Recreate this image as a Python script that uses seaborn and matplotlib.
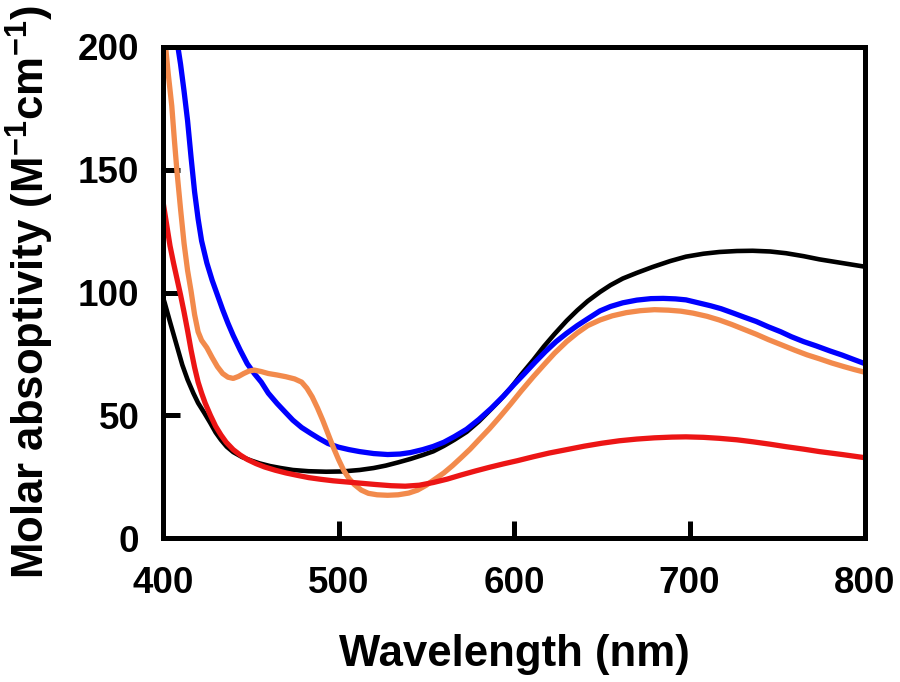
import matplotlib
matplotlib.use('Agg')
import matplotlib.pyplot as plt
import seaborn as sns
import numpy as np
import pandas as pd

# values (wavelength nm, molar absorptivity)
black_wl = [400, 401, 404, 408, 411, 414, 417.3, 420, 423.5, 427, 430, 433, 436.3, 440, 445,
            450, 455, 461, 467, 474, 483, 493, 502, 512, 520, 527, 534, 541, 548, 554,
            560, 566, 573, 580, 586, 592, 598, 604, 611, 617, 623, 630, 636, 642, 649,
            655, 662, 670, 679, 689, 698, 708, 717, 727, 736, 746, 755, 765, 774, 787, 800]
black_eps = [98, 95.7, 88, 78, 70.5, 64.5, 59, 55, 51, 46.8, 43, 40, 37.2, 35, 33,
             31.6, 30.4, 29.3, 28.5, 27.7, 27.2, 27, 27.1, 27.7, 28.5, 29.5, 30.8, 32.2, 33.8, 35.3,
             37.5, 40, 43.2, 47.5, 51.8, 56.2, 61, 66.5, 72.5, 78, 83, 88.5, 92.7, 96.5, 100.2,
             103, 105.7, 108, 110.4, 112.8, 114.6, 115.8, 116.5, 116.9, 117, 116.7, 116, 114.8, 113.5, 112, 110.5]

blue_wl = [408.5, 410, 412, 414, 416, 418, 420, 422, 425, 428, 431, 434, 437, 440, 444,
           448, 452, 456, 460, 465, 470, 474, 479, 484, 489, 494, 500, 506, 512, 520,
           528, 535, 541, 548, 554, 560, 566, 573, 580, 587, 594, 600, 606, 612, 618,
           624, 630, 636, 642, 649, 655, 662, 670, 678, 685, 692, 698, 705, 712, 718,
           725, 731, 738, 745, 752, 758, 765, 772, 780, 787, 794, 800]
blue_eps = [200, 193, 182, 170, 155, 141, 130, 121, 112, 105, 99, 93, 87.5, 82.5, 76.5,
            71, 67, 63.5, 59, 54.8, 51, 48, 45, 42.7, 40.5, 38.5, 37, 36, 35.2, 34.4,
            34, 34.2, 34.8, 36, 37.3, 39, 41.3, 44.3, 48.3, 52.8, 57.8, 62.5, 67, 71.6, 76,
            80, 83.4, 86.5, 89.3, 92.5, 94.3, 95.8, 96.9, 97.5, 97.6, 97.4, 97, 95.8, 94.6, 93.4,
            91.6, 90, 88.2, 86, 84, 82, 80, 78.3, 76.2, 74.5, 72.6, 71]

orange_wl = [401.5, 403, 405, 406.5, 408, 410, 412, 414, 416, 418, 420, 422, 425, 428, 431,
             434, 437, 440, 443, 446, 449, 452, 456, 460, 465, 470, 475, 479, 482, 485,
             488, 491, 494, 497, 500, 503, 506, 509, 513, 517, 522, 528, 534, 540, 545,
             550, 555, 560, 565, 570, 575, 580, 586, 592, 598, 604, 611, 617, 623, 630,
             636, 642, 649, 656, 664, 672, 680, 688, 695, 702, 710, 717, 724, 731, 738,
             745, 752, 760, 767, 774, 781, 788, 794, 800]
orange_eps = [200, 189, 176, 162, 149, 134, 120, 109, 100.5, 91, 84, 80.5, 77.5, 73.5, 69.8,
              67, 65.5, 65, 65.8, 67, 68, 68.4, 67.8, 67, 66.4, 65.7, 64.8, 63.5, 61, 57.5,
              53, 48, 42.5, 37, 32, 27.5, 24.2, 21.8, 19.5, 18.2, 17.6, 17.4, 17.6, 18.3, 19.5,
              21.5, 24, 26.5, 29.5, 32.8, 36.2, 40, 44.5, 49.4, 54.5, 59.8, 65.7, 70.5, 75.2, 80,
              83.5, 86.5, 88.8, 90.5, 91.8, 92.6, 93, 92.8, 92.4, 91.6, 90.3, 88.8, 87, 85, 83,
              80.8, 78.8, 76.5, 74.6, 73, 71.3, 69.8, 68.6, 67.5]

red_wl = [400, 402, 404, 406, 408, 410, 412, 414, 416, 418, 420, 422, 424, 427, 430,
          433, 436, 440, 444, 448, 453, 458, 464, 470, 476, 483, 490, 497, 505, 513,
          521, 530, 538, 546, 554, 562, 570, 578, 586, 594, 602, 611, 620, 630, 640,
          650, 660, 670, 680, 690, 698, 708, 717, 727, 736, 746, 755, 765, 774, 787, 800]
red_eps = [137, 128, 119, 112, 105.5, 99, 92, 84.5, 76.5, 69.5, 63.5, 59, 55, 50, 45.5,
           42, 39, 36, 33.8, 32, 30.3, 28.9, 27.6, 26.5, 25.6, 24.6, 23.9, 23.3, 22.8, 22.3,
           21.8, 21.3, 21.1, 21.5, 22.6, 24, 25.7, 27.3, 28.8, 30.2, 31.5, 33.1, 34.6, 36, 37.4,
           38.6, 39.6, 40.3, 40.8, 41.1, 41.2, 41, 40.6, 40, 39.2, 38.2, 37.2, 36.2, 35.2, 34, 32.7]

x_ticks = [400, 500, 600, 700, 800]
y_ticks = [0, 50, 100, 150, 200]

sns.set_style('ticks')
plt.rcParams['font.family'] = ['Liberation Sans', 'DejaVu Sans']
plt.rcParams['font.weight'] = 'bold'
plt.rcParams['mathtext.fontset'] = 'custom'
plt.rcParams['mathtext.rm'] = 'Liberation Sans:bold'
plt.rcParams['mathtext.bf'] = 'Liberation Sans:bold'
for key in ['text.color', 'axes.labelcolor', 'xtick.color', 'ytick.color', 'axes.edgecolor']:
    plt.rcParams[key] = 'black'

fig, ax = plt.subplots(figsize=(9, 6.82), dpi=100)
fig.subplots_adjust(left=163/900, right=865/900, top=1-47/682, bottom=1-538/682)

series = [
    (black_wl, black_eps, '#000000', 3.3),
    (blue_wl, blue_eps, '#0000ff', 3.8),
    (orange_wl, orange_eps, '#f28a4c', 3.8),
    (red_wl, red_eps, '#ec1515', 3.8),
]
for wl, eps, color, lw in series:
    df = pd.DataFrame({'wl': wl, 'eps': eps})
    sns.lineplot(data=df, x='wl', y='eps', color=color, linewidth=lw,
                 estimator=None, ax=ax)

ax.set_xlim(400, 800)
ax.set_ylim(0, 200)
ax.set_xticks(x_ticks)
ax.set_yticks(y_ticks)
ax.tick_params(axis='x', direction='in', length=12, width=3.6, labelsize=26.5, pad=20,
               colors='black')
ax.tick_params(axis='y', direction='in', length=12, width=3.6, labelsize=26.5, pad=17,
               colors='black')
for side in ['left', 'right', 'top', 'bottom']:
    ax.spines[side].set_linewidth(3.6)
    ax.spines[side].set_color('black')

ax.set_xlabel('Wavelength (nm)', fontsize=31.5, fontweight='bold', va='center', color='black')
ax.set_ylabel(r'Molar absoptivity (M$^{\mathbf{-1}}$cm$^{\mathbf{-1}}$)',
              fontsize=31.5, fontweight='bold', va='center', color='black')
ax.xaxis.set_label_coords(0.5, -0.238)
ax.yaxis.set_label_coords(-0.19, 0.5)

plt.savefig('out.png', dpi=100)
